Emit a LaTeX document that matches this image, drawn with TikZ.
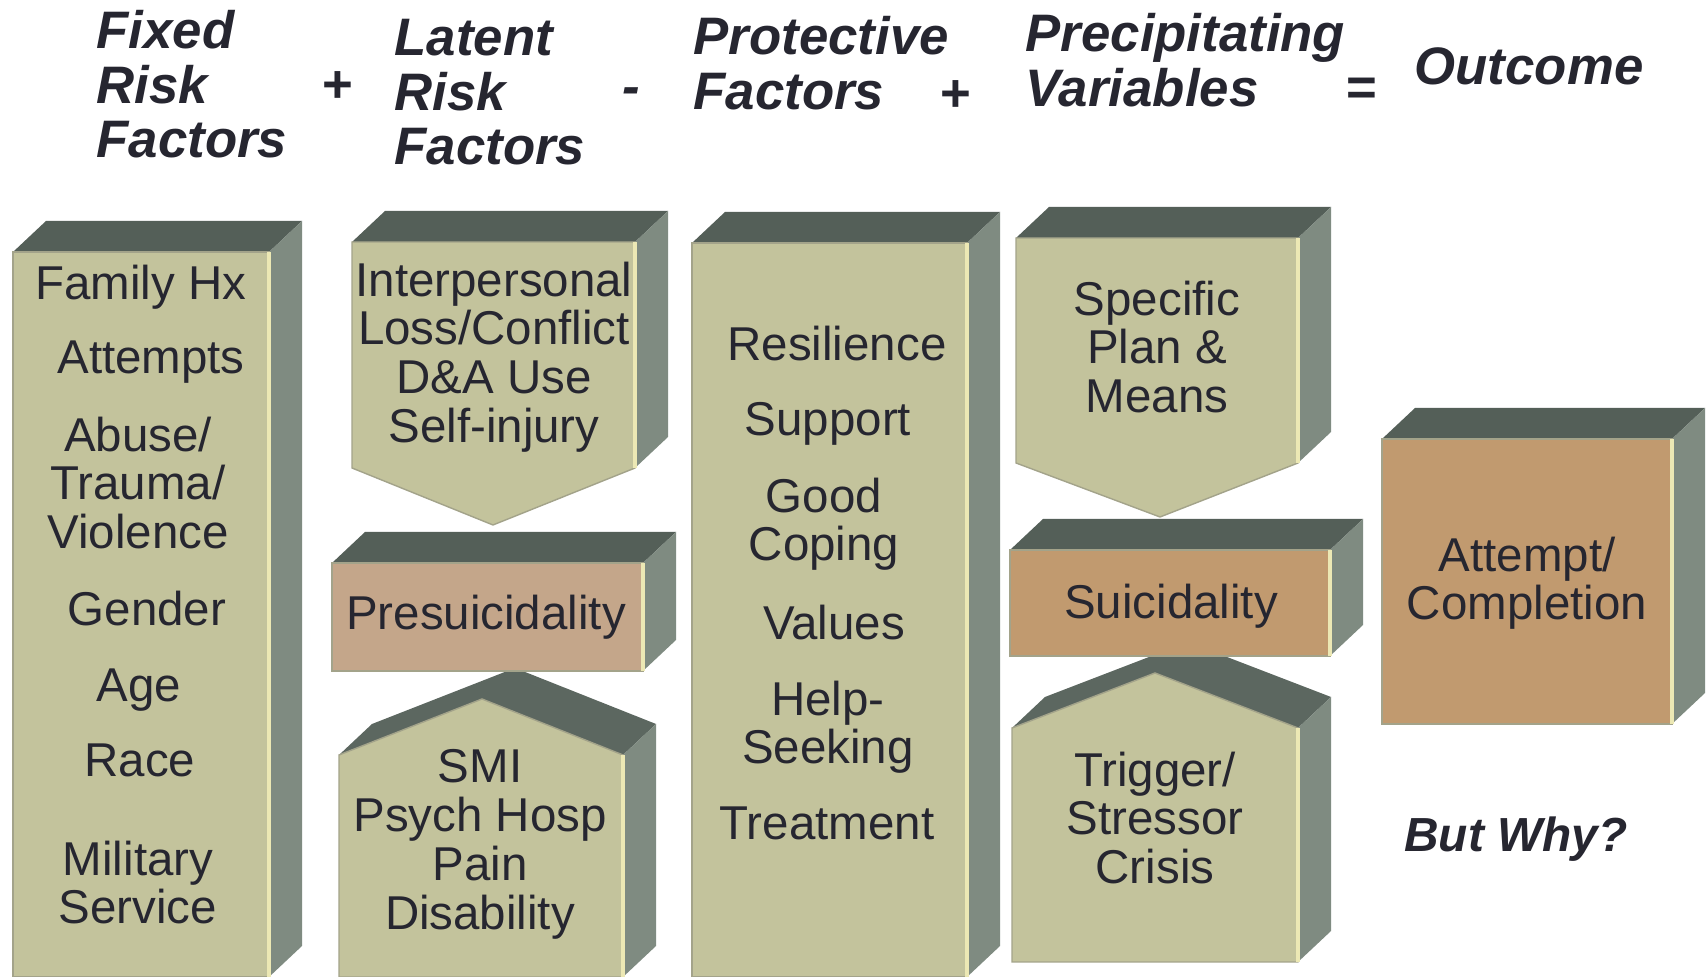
\documentclass[tikz,border=0pt]{standalone}
\usepackage{fontspec}
\setmainfont{Liberation Sans}

\definecolor{faceolive}{HTML}{C3C39C}
\definecolor{facetan}{HTML}{C19A6F}
\definecolor{facepink}{HTML}{C4A68A}
\definecolor{lidgrey}{HTML}{545F58}
\definecolor{roofgrey}{HTML}{5C6760}
\definecolor{sidegrey}{HTML}{7F8B81}
\definecolor{rimgrey}{HTML}{A3A38A}
\definecolor{rimlight}{HTML}{ECE8B4}
\definecolor{inkdark}{HTML}{262630}

\newcommand{\bodyfont}{\fontsize{13.5}{13.9}\selectfont}
\newcommand{\headfont}{\fontsize{15}{15.5}\selectfont\bfseries\itshape}

\tikzset{
  lidface/.style={fill=lidgrey},
  roofface/.style={fill=roofgrey},
  sideface/.style={fill=sidegrey},
  frontface/.style={fill=faceolive, draw=rimgrey, line width=0.4pt},
  rimline/.style={draw=rimlight, line width=0.9pt},
  itemtext/.style={font=\bodyfont, text=inkdark, align=center, inner sep=0pt, anchor=north},
  headtext/.style={font=\headfont, text=inkdark, align=left, inner sep=0pt, anchor=north west},
  optext/.style={font=\headfont, text=inkdark, inner sep=0pt}
}

% plain block: left, top, right, bottom, face colour
\newcommand{\cuboid}[5]{%
  \fill[lidface] (#1,#2) -- ++(33,-31) -- (#3+33,#2-31) -- (#3,#2) -- cycle;
  \fill[sideface] (#3,#2) -- (#3+33,#2-31) -- (#3+33,#4-31) -- (#3,#4) -- cycle;
  \filldraw[frontface, fill=#5] (#1,#2) rectangle (#3,#4);
  \draw[rimline] (#3,#2) -- (#3,#4);
}
% block pointing down: left, top, right, shoulder, tip x, tip y
\newcommand{\downbox}[6]{%
  \fill[lidface] (#1,#2) -- ++(33,-31) -- (#3+33,#2-31) -- (#3,#2) -- cycle;
  \fill[sideface] (#3,#2) -- (#3+33,#2-31) -- (#3+33,#4-31) -- (#3,#4) -- cycle;
  \filldraw[frontface] (#1,#2) -- (#3,#2) -- (#3,#4) -- (#5,#6) -- (#1,#4) -- cycle;
  \draw[rimline] (#3,#2) -- (#3,#4);
}
% block pointing up: left, shoulder, right, bottom, apex x, apex y
\newcommand{\upbox}[6]{%
  \fill[roofface] (#1,#2) -- ++(33,-31) -- (#5+33,#6-31) -- (#3+33,#2-31) -- (#3,#2) -- (#5,#6) -- cycle;
  \fill[sideface] (#3,#2) -- (#3+33,#2-31) -- (#3+33,#4-31) -- (#3,#4) -- cycle;
  \filldraw[frontface] (#1,#2) -- (#5,#6) -- (#3,#2) -- (#3,#4) -- (#1,#4) -- cycle;
  \draw[rimline] (#3,#2) -- (#3,#4);
}

\begin{document}
\begin{tikzpicture}[x=0.01cm, y=-0.01cm]
  \useasboundingbox[fill=white] (0,0) rectangle (1706,977);

  % headings of the sum
  \node[headtext] (fixed) at (96,10) {Fixed\\Risk\\Factors};
  \node[optext] (plusa) at (337,87) {+};
  \node[headtext] (latent) at (394,19) {Latent\\Risk\\Factors};
  \node[optext] (minus) at (631,96) {-};
  \node[headtext] (protect) at (693,16) {Protective\\Factors};
  \node[optext] (plusb) at (955,96) {+};
  \node[headtext] (precip) at (1025,13) {Precipitating\\Variables};
  \node[optext] (equals) at (1361,92) {=};
  \node[headtext] (outcome) at (1414,47) {Outcome};

  % blocks
  \cuboid{13}{252}{269}{977}{faceolive}
  \downbox{352}{242}{635}{468}{493}{525}
  \upbox{339}{755}{623}{977}{482}{699}
  \cuboid{332}{563}{643}{671}{facepink}
  \cuboid{692}{243}{967}{977}{faceolive}
  \upbox{1012}{728}{1298}{962}{1155}{673}
  \cuboid{1010}{550}{1330}{656}{facetan}
  \downbox{1016}{238}{1298}{463}{1160}{517}
  \cuboid{1382}{439}{1672}{724}{facetan}

  % fixed risk factors
  \node[itemtext] (famhx) at (141,264) {Family Hx};
  \node[itemtext] (attempts) at (151,340) {Attempts};
  \node[itemtext] (abuse) at (138,416) {Abuse/\\Trauma/\\Violence};
  \node[itemtext] (gender) at (147,590) {Gender};
  \node[itemtext] (age) at (139,668) {Age};
  \node[itemtext] (race) at (140,743) {Race};
  \node[itemtext] (military) at (138,840) {Military\\Service};

  % latent risk factors
  \node[itemtext] (interp) at (494,261) {Interpersonal\\Loss/Conflict\\D\&A Use\\Self-injury};
  \node[itemtext] (presuic) at (486,594) {Presuicidality};
  \node[itemtext] (smi) at (480,749) {SMI\\Psych Hosp\\Pain\\Disability};

  % protective factors
  \node[itemtext] (resil) at (837,325) {Resilience};
  \node[itemtext] (support) at (828,402) {Support};
  \node[itemtext] (coping) at (824,477) {Good\\Coping};
  \node[itemtext] (values) at (834,604) {Values};
  \node[itemtext] (helpseek) at (828,680) {Help-\\Seeking};
  \node[itemtext] (treat) at (827,806) {Treatment};

  % precipitating variables
  \node[itemtext] (plan) at (1157,280) {Specific\\Plan \&\\Means};
  \node[itemtext] (suic) at (1171,583) {Suicidality};
  \node[itemtext] (trigger) at (1155,751) {Trigger/\\Stressor\\Crisis};

  % outcome
  \node[itemtext] (attempt) at (1527,536) {Attempt/\\Completion};
  \node[headtext, anchor=north, font=\fontsize{13.6}{14}\selectfont\bfseries\itshape] (butwhy) at (1516,816) {But Why?};
\end{tikzpicture}
\end{document}
